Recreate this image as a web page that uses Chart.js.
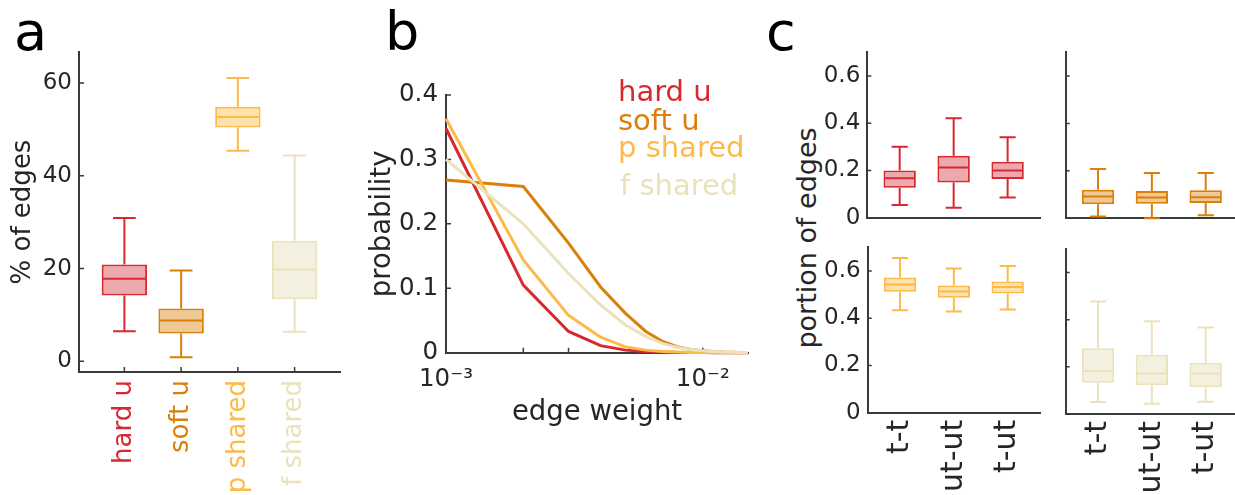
<!DOCTYPE html>
<html>
<head>
<meta charset="utf-8">
<script src="https://cdn.jsdelivr.net/npm/chart.js@4.4.1/dist/chart.umd.min.js"></script>
<style>
  html, body { margin: 0; padding: 0; background: #fff; }
  body { width: 1235px; height: 495px; overflow: hidden; position: relative; font-family: 'DejaVu Sans', sans-serif; }
  canvas, .txt { position: absolute; }
  .letter { font-size: 54px; line-height: 1; color: #000; }
  .vtitle { font-size: 27px; line-height: 1; color: #262626; white-space: nowrap; transform: translate(-50%, -50%) rotate(-90deg); }
</style>
</head>
<body>
<div class="txt letter" style="left:14px;top:5px">a</div>
<div class="txt letter" style="left:385px;top:5px">b</div>
<div class="txt letter" style="left:766px;top:5px">c</div>
<div class="txt vtitle" style="left:806px;top:238px">portion of edges</div>

<canvas id="chartA" width="360" height="600" style="left:0;top:0"></canvas>
<canvas id="chartB" width="420" height="440" style="left:360px;top:0"></canvas>
<canvas id="chartC1" width="290" height="245" style="left:770px;top:0"></canvas>
<canvas id="chartC2" width="213" height="245" style="left:1045px;top:0"></canvas>
<canvas id="chartC3" width="290" height="320" style="left:770px;top:200px"></canvas>
<canvas id="chartC4" width="213" height="320" style="left:1045px;top:200px"></canvas>

<script>
// ---- panel a: % of edges per edge type
const groupNames = ['hard u', 'soft u', 'p shared', 'f shared'];
const aPositions = [1, 2, 3, 4];
const aLow = [6.5, 0.9, 45.4, 6.4];
const aQ1 = [14.2, 6.0, 50.4, 13.4];
const aMed = [17.8, 8.8, 52.7, 19.8];
const aQ3 = [20.9, 11.4, 54.9, 26.0];
const aHigh = [30.9, 19.6, 61.1, 44.4];
const aYTicks = [0, 20, 40, 60];

// ---- panel b: edge weight distributions
const bWeights = [0.001, 0.002, 0.003, 0.004, 0.005, 0.006, 0.007, 0.008, 0.009, 0.010, 0.011, 0.012, 0.013, 0.014, 0.015];
const bHardU = [0.348, 0.105, 0.033, 0.011, 0.004, 0.002, 0.001, 0.0005, 0.0003, 0.0002, 0.0001, 0, 0, 0, 0];
const bSoftU = [0.268, 0.258, 0.170, 0.102, 0.061, 0.033, 0.017, 0.009, 0.005, 0.003, 0.002, 0.001, 0.0006, 0.0003, 0.0002];
const bPShared = [0.363, 0.144, 0.058, 0.024, 0.009, 0.004, 0.002, 0.001, 0.0005, 0.0003, 0.0002, 0.0001, 0, 0, 0];
const bFShared = [0.300, 0.200, 0.123, 0.074, 0.043, 0.025, 0.014, 0.008, 0.005, 0.003, 0.002, 0.001, 0.0006, 0.0003, 0.0002];
const bXTicks = [0.001, 0.002, 0.003, 0.01];
const bXLabels = ['10\u207B\u00B3', '', '', '10\u207B\u00B2'];
const bYTicks = [0, 0.1, 0.2, 0.3, 0.4];

// ---- panel c: portion of edges by node pair type (one row per edge type)
const cPairs = ['t-t', 'ut-ut', 't-ut'];
const cPositions = [1, 2, 3];
const cLow = [[0.054, 0.042, 0.085], [0.008, 0.0, 0.013], [0.434, 0.428, 0.437], [0.051, 0.043, 0.052]];
const cQ1 = [[0.127, 0.149, 0.164], [0.059, 0.061, 0.064], [0.512, 0.487, 0.505], [0.133, 0.122, 0.113]];
const cMed = [[0.167, 0.212, 0.200], [0.092, 0.088, 0.089], [0.543, 0.513, 0.532], [0.182, 0.172, 0.172]];
const cQ3 = [[0.200, 0.262, 0.237], [0.120, 0.115, 0.118], [0.572, 0.538, 0.555], [0.279, 0.251, 0.217]];
const cHigh = [[0.300, 0.421, 0.341], [0.208, 0.191, 0.191], [0.655, 0.610, 0.621], [0.477, 0.394, 0.367]];
const cYTicks = [0, 0.2, 0.4, 0.6];

// colours
const strokeColors = ['#d62a30', '#db7f0b', '#fdba4a', '#ebe2bc'];
const fillColors = ['#eba9ad', '#efc995', '#fde2ad', '#f4f0e0'];
const INK = '#262626';
const AXIS = '#3a3a3a';
const FONT = "'DejaVu Sans', sans-serif";

Chart.defaults.font.family = FONT;
Chart.defaults.color = INK;

// small tick marks pointing into the plot, like matlab
const innerTicks = {
  id: 'innerTicks',
  beforeDatasetsDraw(chart, args, opts) {
    const { ctx, chartArea } = chart;
    ctx.save();
    ctx.strokeStyle = AXIS;
    ctx.lineWidth = 1.5;
    ctx.beginPath();
    if (opts.y) {
      chart.scales.y.ticks.forEach(t => {
        const py = chart.scales.y.getPixelForValue(t.value);
        ctx.moveTo(chartArea.left, py);
        ctx.lineTo(chartArea.left + opts.y, py);
      });
    }
    if (opts.x) {
      chart.scales.x.ticks.forEach(t => {
        const px = chart.scales.x.getPixelForValue(t.value);
        ctx.moveTo(px, chartArea.bottom);
        ctx.lineTo(px, chartArea.bottom - opts.x);
      });
    }
    ctx.stroke();
    ctx.restore();
  }
};

// whiskers + median on top of the floating bars
const boxPlot = {
  id: 'boxPlot',
  afterDatasetsDraw(chart) {
    const ds = chart.data.datasets[0];
    const meta = chart.getDatasetMeta(0);
    const y = chart.scales.y;
    const ctx = chart.ctx;
    ctx.save();
    ctx.lineWidth = ds.whiskerWidth;
    meta.data.forEach((bar, i) => {
      const { x, width } = bar.getProps(['x', 'width'], true);
      const cap = width / 4;
      const half = width / 2 - 1;
      const yLow = y.getPixelForValue(ds.low[i]);
      const yHigh = y.getPixelForValue(ds.high[i]);
      const yQ1 = y.getPixelForValue(ds.data[i].y[0]);
      const yQ3 = y.getPixelForValue(ds.data[i].y[1]);
      const yMed = y.getPixelForValue(ds.med[i]);
      ctx.strokeStyle = ds.borderColor[i];
      ctx.beginPath();
      ctx.moveTo(x, yQ3); ctx.lineTo(x, yHigh);
      ctx.moveTo(x - cap, yHigh); ctx.lineTo(x + cap, yHigh);
      ctx.moveTo(x, yQ1); ctx.lineTo(x, yLow);
      ctx.moveTo(x - cap, yLow); ctx.lineTo(x + cap, yLow);
      ctx.moveTo(x - half, yMed); ctx.lineTo(x + half, yMed);
      ctx.stroke();
    });
    ctx.restore();
  }
};

// coloured text legend for panel b
const legendLines = [101, 130, 157, 195];
const legendLeft = [258, 258, 258, 260];
const textLegend = {
  id: 'textLegend',
  afterDraw(chart) {
    const ctx = chart.ctx;
    ctx.save();
    ctx.font = '29px ' + FONT;
    ctx.textBaseline = 'alphabetic';
    ctx.textAlign = 'left';
    chart.data.datasets.forEach((ds, i) => {
      ctx.fillStyle = ds.borderColor;
      ctx.fillText(ds.label, legendLeft[i], legendLines[i]);
    });
    ctx.restore();
  }
};

const axisGrid = { display: true, drawOnChartArea: false, drawTicks: false };
const axisBorder = { display: true, color: AXIS, width: 2 };

function boxChart(id, o) {
  return new Chart(document.getElementById(id), {
    type: 'bar',
    data: {
      datasets: [{
        data: o.pos.map((p, i) => ({ x: p, y: [o.q1[i], o.q3[i]] })),
        low: o.low,
        med: o.med,
        high: o.high,
        whiskerWidth: o.lw,
        backgroundColor: o.fill,
        borderColor: o.stroke,
        borderWidth: o.lw,
        borderSkipped: false,
        barPercentage: o.barPct,
        categoryPercentage: 1
      }]
    },
    options: {
      responsive: false,
      animation: false,
      events: [],
      layout: { padding: o.pad },
      plugins: {
        legend: { display: false },
        tooltip: { enabled: false },
        innerTicks: { x: o.xTick, y: o.yTick }
      },
      scales: {
        x: {
          type: 'linear',
          offset: false,
          min: o.xMin,
          max: o.xMax,
          afterBuildTicks: s => { s.ticks = o.pos.map(v => ({ value: v })); },
          afterFit: s => { s.height = o.xH; },
          grid: { display: true, drawOnChartArea: false, drawTicks: false, offset: false },
          border: axisBorder,
          ticks: {
            display: !!o.xLabels,
            autoSkip: false,
            minRotation: 90,
            maxRotation: 90,
            padding: o.xPad,
            font: { size: o.xFont },
            color: ctx => (o.xColors ? o.xColors[ctx.index] : INK),
            callback: (v, i) => (o.xLabels ? o.xLabels[i] : '')
          }
        },
        y: {
          min: o.yMin,
          max: o.yMax,
          afterBuildTicks: s => { s.ticks = o.yTicks.map(v => ({ value: v })); },
          afterFit: s => { s.width = o.yW; },
          grid: axisGrid,
          border: axisBorder,
          ticks: {
            display: o.yLabels,
            padding: 7,
            font: { size: 23 },
            color: INK,
            callback: v => String(v)
          },
          title: {
            display: !!o.yTitle,
            text: o.yTitle || '',
            font: { size: 26 },
            color: INK,
            padding: { top: 8, bottom: 0 }
          }
        }
      }
    },
    plugins: [innerTicks, boxPlot]
  });
}

// panel a
boxChart('chartA', {
  pos: aPositions, low: aLow, q1: aQ1, med: aMed, q3: aQ3, high: aHigh,
  fill: fillColors, stroke: strokeColors, lw: 2, barPct: 0.8,
  pad: { left: 0, top: 52, right: 20, bottom: 0 },
  xMin: 0.2, xMax: 4.8, xH: 228, xPad: 8, xTick: 5, xFont: 26,
  xLabels: groupNames, xColors: strokeColors,
  yMin: -2.3, yMax: 66.7, yTicks: aYTicks, yW: 79, yTick: 5, yLabels: true,
  yTitle: '% of edges'
});

// panel b
new Chart(document.getElementById('chartB'), {
  type: 'line',
  data: {
    datasets: [bHardU, bSoftU, bPShared, bFShared].map((vals, i) => ({
      label: groupNames[i],
      data: bWeights.map((w, j) => ({ x: w, y: vals[j] })),
      borderColor: strokeColors[i],
      borderWidth: 3,
      pointRadius: 0,
      fill: false,
      tension: 0,
      clip: false,
      order: 4 - i
    }))
  },
  options: {
    responsive: false,
    animation: false,
    events: [],
    layout: { padding: { left: 0, top: 95, right: 32, bottom: 0 } },
    plugins: {
      legend: { display: false },
      tooltip: { enabled: false },
      innerTicks: { x: 5, y: 5 }
    },
    scales: {
      x: {
        type: 'logarithmic',
        offset: false,
        min: 0.001,
        max: 0.015,
        afterBuildTicks: s => { s.ticks = bXTicks.map(v => ({ value: v })); },
        afterFit: s => { s.height = 87.3; },
        grid: axisGrid,
        border: axisBorder,
        ticks: {
          autoSkip: false,
          maxRotation: 0,
          padding: 12,
          font: { size: 24.5 },
          color: INK,
          callback: (v, i) => bXLabels[i]
        },
        title: {
          display: true,
          text: 'edge weight',
          font: { size: 27.5 },
          color: INK,
          padding: { top: 0, bottom: 11 }
        }
      },
      y: {
        min: 0,
        max: 0.4,
        afterBuildTicks: s => { s.ticks = bYTicks.map(v => ({ value: v })); },
        afterFit: s => { s.width = 86; },
        grid: axisGrid,
        border: axisBorder,
        ticks: {
          padding: 8,
          font: { size: 24.5 },
          color: INK,
          callback: v => String(v)
        },
        title: {
          display: true,
          text: 'probability',
          font: { size: 27.5 },
          color: INK,
          padding: { top: 6, bottom: 0 }
        }
      }
    }
  },
  plugins: [innerTicks, textLegend]
});

// panel c, one small chart per edge type
const cLayout = [
  { id: 'chartC1', pad: { left: 0, top: 52.3, right: 20, bottom: 0 }, xH: 27.3, yW: 97.3, yLabels: true, xLabels: null },
  { id: 'chartC2', pad: { left: 0, top: 52.3, right: 20, bottom: 0 }, xH: 26.7, yW: 20.7, yLabels: false, xLabels: null },
  { id: 'chartC3', pad: { left: 0, top: 47.3, right: 20, bottom: 0 }, xH: 107.3, yW: 97.7, yLabels: true, xLabels: cPairs },
  { id: 'chartC4', pad: { left: 0, top: 49, right: 20, bottom: 0 }, xH: 106, yW: 20.7, yLabels: false, xLabels: cPairs }
];
cLayout.forEach((L, g) => {
  boxChart(L.id, {
    pos: cPositions, low: cLow[g], q1: cQ1[g], med: cMed[g], q3: cQ3[g], high: cHigh[g],
    fill: cPositions.map(() => fillColors[g]),
    stroke: cPositions.map(() => strokeColors[g]),
    lw: 2, barPct: 0.6,
    pad: L.pad,
    xMin: 0.4, xMax: 3.6, xH: L.xH, xPad: 7, xTick: 0, xFont: 30,
    xLabels: L.xLabels, xColors: null,
    yMin: 0, yMax: 0.7, yTicks: cYTicks, yW: L.yW, yTick: 4, yLabels: L.yLabels,
    yTitle: null
  });
});
</script>
</body>
</html>
